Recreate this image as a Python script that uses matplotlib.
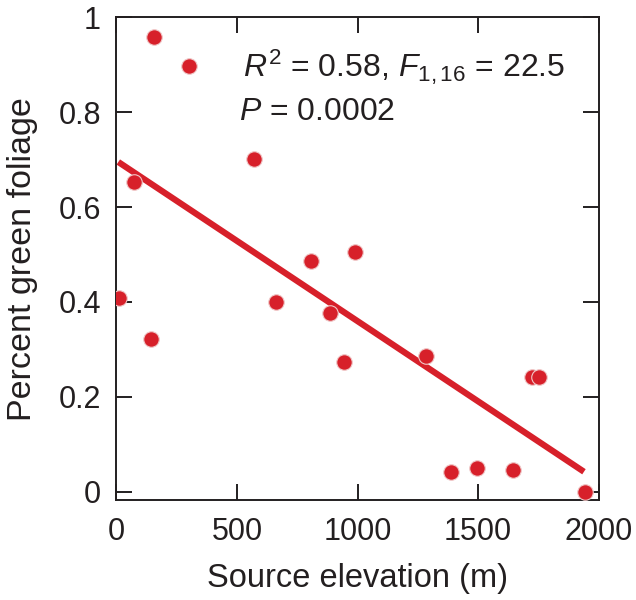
import matplotlib.pyplot as plt
import numpy as np

plt.rcParams['font.family'] = 'Liberation Sans'
plt.rcParams['mathtext.fontset'] = 'custom'
plt.rcParams['mathtext.rm'] = 'Liberation Sans'
plt.rcParams['mathtext.it'] = 'Liberation Sans:italic'

elevation = [10, 75, 143, 158, 302, 572, 663, 809, 887, 943, 991,
             1282, 1386, 1494, 1643, 1725, 1752, 1942]
green = [0.408, 0.652, 0.322, 0.958, 0.898, 0.701, 0.399, 0.487, 0.376,
         0.274, 0.505, 0.286, 0.042, 0.049, 0.046, 0.241, 0.241, 0.0]

red = "#d7202a"
dark = "#231f20"

fig = plt.figure(figsize=(6.36, 6.0), dpi=100)
ax = fig.add_axes([0.183, 0.1667, 0.7583, 0.8045])

x = np.array(elevation)
y = np.array(green)
slope, intercept = np.polyfit(x, y, 1)
xl = np.array([8, 1939])
ax.plot(xl, intercept + slope * xl, color=red, lw=4.5, solid_capstyle='butt', zorder=2)
ax.scatter(x, y, s=125, color=red, edgecolors="#f0c8c8", linewidths=0.8, zorder=3)

ax.set_xlim(0, 2000)
ax.set_ylim(-0.0175, 1.0)
ax.set_xticks([0, 500, 1000, 1500, 2000])
ax.set_yticks([0, 0.2, 0.4, 0.6, 0.8, 1])
ax.set_yticklabels(["0", "0.2", "0.4", "0.6", "0.8", "1"])

ax.tick_params(direction='in', length=11.5, width=1.4, colors=dark,
               labelsize=22, top=True, right=True, labelcolor=dark)
ax.tick_params(axis='x', pad=12)
ax.tick_params(axis='y', pad=11)
for sp in ax.spines.values():
    sp.set_linewidth(1.4)
    sp.set_color(dark)

ax.set_xlabel("Source elevation (m)", fontsize=23.5, color=dark, labelpad=12)
ax.set_ylabel("Percent green foliage", fontsize=24.5, color=dark, labelpad=15)

ax.text(0.262, 0.876, r"$R^2$ = 0.58, $F_{1,16}$ = 22.5", transform=ax.transAxes,
        fontsize=23, color=dark, va='baseline')
ax.text(0.255, 0.787, r"$P$ = 0.0002", transform=ax.transAxes,
        fontsize=23, color=dark, va='baseline')

plt.savefig("out.png", dpi=100)
